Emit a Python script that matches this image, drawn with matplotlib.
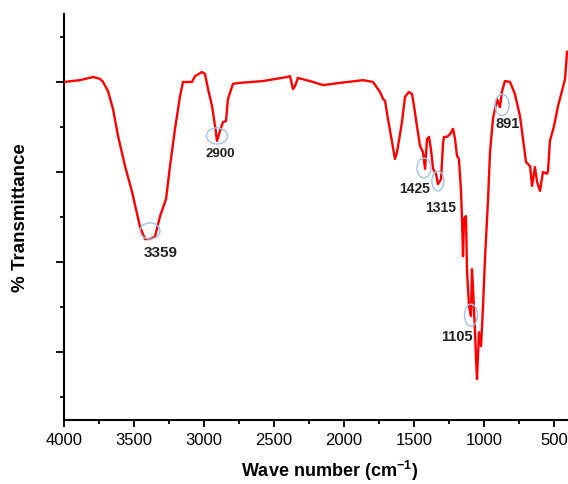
import matplotlib
matplotlib.use("Agg")
import matplotlib.pyplot as plt
from matplotlib.patches import Ellipse
import numpy as np

plt.rcParams['font.family'] = ['Liberation Sans', 'DejaVu Sans']
plt.rcParams['mathtext.fontset'] = 'custom'
plt.rcParams['mathtext.rm'] = 'Liberation Sans'
plt.rcParams['mathtext.bf'] = 'Liberation Sans:bold'

# FTIR spectrum (wavenumber cm-1, % transmittance, arbitrary scale)
wavenumber = [4000, 3886, 3793, 3743, 3721, 3686, 3650, 3614, 3564, 3514, 3457,
              3421, 3386, 3350, 3314, 3271, 3243, 3207, 3171, 3150, 3086, 3064,
              3014, 2993, 2971, 2943, 2921, 2907, 2886, 2864, 2843, 2829, 2793,
              2743, 2579, 2407, 2386, 2364, 2350, 2329, 2221, 2150, 2029, 1864,
              1793, 1757, 1743, 1721, 1707, 1686, 1657, 1636, 1621, 1586, 1564,
              1536, 1514, 1500, 1479, 1457, 1436, 1421, 1407, 1393, 1379, 1364,
              1343, 1329, 1307, 1293, 1286, 1264, 1243, 1221, 1207, 1193, 1179,
              1164, 1157, 1150, 1143, 1129, 1121, 1107, 1093, 1086, 1079, 1064,
              1057, 1050, 1036, 1021, 1007, 993, 971, 957, 936, 907, 886, 871,
              850, 814, 779, 743, 721, 700, 671, 657, 636, 621, 600, 579, 550,
              543, 529, 500, 471, 443, 421, 407]
transmittance = [80.0, 80.4, 81.1, 80.7, 80.0, 78.0, 74.0, 68.0, 61.3, 55.6, 47.8,
                 45.1, 45.1, 45.6, 50.2, 54.0, 61.3, 69.6, 76.9, 80.0, 80.0, 81.3,
                 82.2, 81.8, 78.4, 74.7, 70.2, 66.9, 69.1, 71.1, 71.3, 76.2, 79.6,
                 79.8, 80.2, 81.1, 81.3, 78.4, 79.1, 80.9, 80.0, 79.3, 79.8, 80.4,
                 80.0, 78.4, 77.8, 76.2, 75.8, 71.8, 66.7, 62.9, 64.4, 71.1, 76.7,
                 77.8, 77.3, 74.7, 70.2, 65.8, 64.4, 60.7, 67.3, 67.8, 65.1, 60.7,
                 59.6, 57.3, 58.4, 66.2, 67.8, 67.8, 68.4, 69.6, 67.3, 63.6, 62.9,
                 55.6, 49.6, 41.3, 49.6, 50.2, 37.8, 30.2, 28.0, 38.4, 34.7, 24.4,
                 18.4, 14.0, 24.4, 21.3, 30.2, 40.7, 54.0, 64.4, 71.8, 76.2, 74.4, 78.0,
                 80.2, 80.0, 77.3, 72.4, 67.3, 62.2, 61.3, 56.9, 61.1, 57.8, 55.8, 60.0, 59.6,
                 60.2, 66.9, 70.2, 74.7, 78.0, 80.7, 86.7]

# peak annotations
peak_labels = ['3359', '2900', '1425', '1315', '1105', '891']
circle_x = [3386, 2907, 1429, 1329, 1093, 871]
circle_y = [46.9, 68.0, 60.9, 58.0, 28.2, 74.9]
circle_w = [143, 150, 100, 86, 93, 100]
circle_h = [3.6, 3.6, 4.4, 4.4, 4.9, 4.7]
label_x = [3307, 2886, 1493, 1307, 1193, 829]
label_y = [42.2, 64.2, 56.4, 52.2, 23.6, 70.9]
label_size = [11, 9.5, 10, 10, 10.5, 10.5]

fig = plt.figure(figsize=(5.68, 4.85), dpi=100)
ax = fig.add_axes([64/568, 64/485, 504/568, 406/485])

ax.plot(wavenumber, transmittance, color='#ff0000', lw=1.7, zorder=3)

for cx, cy, w, h in zip(circle_x, circle_y, circle_w, circle_h):
    ax.add_patch(Ellipse((cx, cy), w, h, fill=False, edgecolor='#9dc3e6', lw=1.0, zorder=4))
for lab, lx, ly, s in zip(peak_labels, label_x, label_y, label_size):
    ax.text(lx, ly, lab, fontsize=s, fontweight='bold', color='#222222',
            ha='center', va='center', zorder=5)

ax.set_xlim(4000, 400)
ax.set_ylim(4.9, 95.1)
ax.set_xticks([4000, 3500, 3000, 2500, 2000, 1500, 1000, 500])
ax.set_xticks([3750, 3250, 2750, 2250, 1750, 1250, 750], minor=True)
ax.set_yticks([20, 40, 60, 80])
ax.set_yticks([10, 30, 50, 70, 90], minor=True)
ax.set_yticklabels([])
ax.tick_params(axis='x', which='major', length=5, width=1.3, labelsize=12, pad=4)
ax.tick_params(axis='x', which='minor', length=3, width=1.3)
ax.tick_params(axis='y', which='major', length=5.5, width=1.3)
ax.tick_params(axis='y', which='minor', length=3, width=1.3)

for s in ['top', 'right']:
    ax.spines[s].set_visible(False)
for s in ['left', 'bottom']:
    ax.spines[s].set_linewidth(1.5)

ax.set_xlabel(r'Wave number (cm$^{\mathbf{-1}}$)', fontsize=13, fontweight='bold')
ax.xaxis.set_label_coords(0.526, -0.094)
ax.set_ylabel('% Transmittance', fontsize=13.5, fontweight='bold', labelpad=16)

fig.savefig('out.png', dpi=100)
